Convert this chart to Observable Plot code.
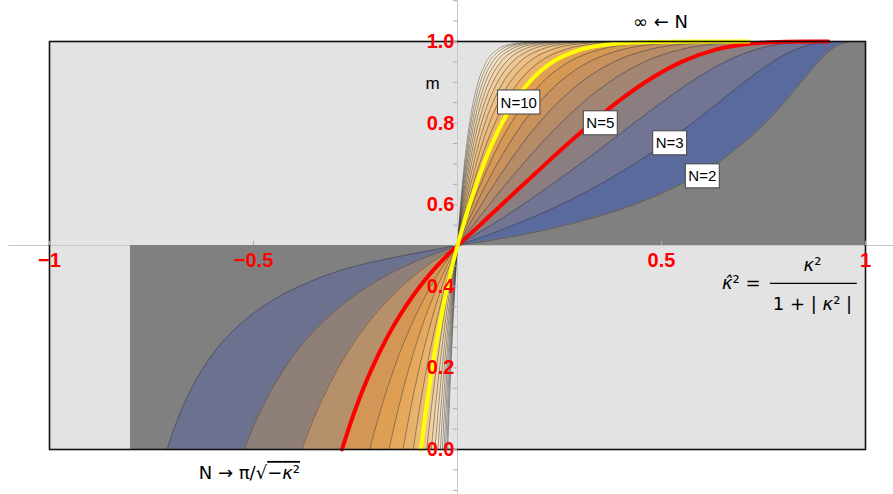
<!DOCTYPE html>
<html><head><meta charset="utf-8">
<script src="https://cdn.jsdelivr.net/npm/d3@7"></script>
<script src="https://cdn.jsdelivr.net/npm/@observablehq/plot@0.6"></script>
<style>body{margin:0;background:#fff}#chart{width:893px;height:494px}</style>
</head><body><div id="chart"></div>
<script>
// ---- data ----
const nValues = [2,3,4,5,6,7,8,9,10,11,12,13,14,15,16,17,18,19,20];
// upper half (kappa^2 > 0): m values and kappa-hat^2 positions per N
const mUpper = [0.5,0.55,0.6,0.65,0.7,0.75,0.8,0.85,0.9,0.95,0.98,0.995,0.999,0.9999,1];
const kUp2  = [0,0.265,0.432,0.547,0.633,0.699,0.754,0.800,0.842,0.884,0.915,0.942,0.959,0.973,0.984];
const kUp3  = [0,0.138,0.253,0.350,0.434,0.508,0.576,0.640,0.703,0.772,0.828,0.878,0.912,0.941,0.965];
const kUp4  = [0,0.083,0.160,0.232,0.301,0.368,0.433,0.500,0.571,0.656,0.730,0.802,0.854,0.900,0.940];
const kUp5  = [0,0.055,0.108,0.162,0.216,0.271,0.329,0.390,0.460,0.549,0.633,0.721,0.789,0.852,0.909];
const kUp6  = [0,0.0385,0.0779,0.1184,0.1607,0.2053,0.2536,0.3074,0.3714,0.4582,0.5455,0.6421,0.7221,0.7994,0.8741];
const kUp7  = [0,0.0286,0.0584,0.0898,0.1233,0.1595,0.1997,0.2459,0.3027,0.3833,0.4685,0.5687,0.6563,0.7455,0.8361];
const kUp8  = [0,0.0220,0.0454,0.0703,0.0972,0.1269,0.1604,0.1998,0.2494,0.3224,0.4030,0.5023,0.5938,0.6916,0.7962];
const kUp9  = [0,0.0175,0.0362,0.0563,0.0784,0.1030,0.1312,0.1648,0.2080,0.2732,0.3478,0.4437,0.5360,0.6392,0.7553];
const kUp10 = [0,0.0142,0.0295,0.0461,0.0645,0.0851,0.1090,0.1378,0.1754,0.2334,0.3017,0.3925,0.4833,0.5893,0.7143];
const kUp11 = [0,0.0118,0.0245,0.0384,0.0539,0.0714,0.0918,0.1167,0.1495,0.2011,0.2631,0.3481,0.4360,0.5425,0.6739];
const kUp12 = [0,0.0099,0.0207,0.0325,0.0457,0.0607,0.0783,0.0999,0.1287,0.1746,0.2308,0.3097,0.3938,0.4991,0.6345];
const kUp13 = [0,0.0085,0.0177,0.0278,0.0392,0.0522,0.0675,0.0864,0.1118,0.1527,0.2036,0.2765,0.3563,0.4592,0.5967];
const kUp14 = [0,0.0073,0.0153,0.0241,0.0340,0.0453,0.0587,0.0754,0.0979,0.1345,0.1806,0.2479,0.3231,0.4227,0.5605];
const kUp15 = [0,0.0064,0.0133,0.0210,0.0297,0.0397,0.0515,0.0663,0.0864,0.1192,0.1611,0.2231,0.2937,0.3894,0.5263];
const kUp16 = [0,0.0056,0.0117,0.0185,0.0262,0.0351,0.0456,0.0588,0.0767,0.1063,0.1444,0.2015,0.2676,0.3592,0.4941];
const kUp17 = [0,0.0050,0.0104,0.0165,0.0233,0.0312,0.0406,0.0524,0.0686,0.0953,0.1300,0.1827,0.2445,0.3318,0.4638];
const kUp18 = [0,0.0044,0.0093,0.0147,0.0208,0.0279,0.0364,0.0470,0.0616,0.0859,0.1177,0.1662,0.2240,0.3070,0.4355];
const kUp19 = [0,0.0040,0.0084,0.0132,0.0187,0.0251,0.0328,0.0424,0.0556,0.0778,0.1069,0.1518,0.2058,0.2844,0.4092];
const kUp20 = [0,0.0036,0.0075,0.0119,0.0169,0.0227,0.0297,0.0384,0.0505,0.0707,0.0975,0.1390,0.1896,0.2640,0.3846];
// lower half (kappa^2 < 0)
const mLower = [0.5,0.45,0.4,0.35,0.3,0.25,0.2,0.15,0.1,0.05,0];
const kLo2  = [0,-0.2476,-0.3872,-0.4771,-0.5402,-0.5870,-0.6230,-0.6517,-0.6753,-0.6950,-0.7116];
const kLo3  = [0,-0.1276,-0.2193,-0.2885,-0.3431,-0.3871,-0.4234,-0.4540,-0.4803,-0.5031,-0.5230];
const kLo4  = [0,-0.0760,-0.1364,-0.1858,-0.2271,-0.2621,-0.2924,-0.3187,-0.3421,-0.3629,-0.3815];
const kLo5  = [0,-0.0500,-0.0918,-0.1274,-0.1583,-0.1852,-0.2091,-0.2304,-0.2497,-0.2671,-0.2830];
const kLo6  = [0,-0.0353,-0.0656,-0.0921,-0.1155,-0.1364,-0.1551,-0.1721,-0.1877,-0.2020,-0.2152];
const kLo7  = [0,-0.0262,-0.0491,-0.0693,-0.0875,-0.1039,-0.1189,-0.1325,-0.1451,-0.1568,-0.1677];
const kLo8  = [0,-0.0202,-0.0380,-0.0540,-0.0684,-0.0816,-0.0936,-0.1047,-0.1150,-0.1246,-0.1336];
const kLo9  = [0,-0.0160,-0.0303,-0.0431,-0.0548,-0.0656,-0.0754,-0.0846,-0.0931,-0.1011,-0.1086];
const kLo10 = [0,-0.0130,-0.0247,-0.0352,-0.0449,-0.0538,-0.0620,-0.0696,-0.0768,-0.0835,-0.0898];
const kLo11 = [0,-0.0108,-0.0205,-0.0293,-0.0374,-0.0449,-0.0518,-0.0582,-0.0643,-0.0700,-0.0754];
const kLo12 = [0,-0.0091,-0.0173,-0.0247,-0.0316,-0.0380,-0.0439,-0.0494,-0.0546,-0.0595,-0.0641];
const kLo13 = [0,-0.0077,-0.0147,-0.0211,-0.0271,-0.0325,-0.0376,-0.0424,-0.0469,-0.0512,-0.0552];
const kLo14 = [0,-0.0067,-0.0127,-0.0183,-0.0234,-0.0282,-0.0326,-0.0368,-0.0407,-0.0444,-0.0479];
const kLo15 = [0,-0.0058,-0.0111,-0.0160,-0.0205,-0.0246,-0.0285,-0.0322,-0.0357,-0.0389,-0.0420];
const kLo16 = [0,-0.0051,-0.0098,-0.0141,-0.0180,-0.0217,-0.0252,-0.0284,-0.0315,-0.0344,-0.0371];
const kLo17 = [0,-0.0045,-0.0087,-0.0125,-0.0160,-0.0193,-0.0224,-0.0252,-0.0280,-0.0306,-0.0330];
const kLo18 = [0,-0.0040,-0.0077,-0.0111,-0.0143,-0.0172,-0.0200,-0.0226,-0.0250,-0.0274,-0.0296];
const kLo19 = [0,-0.0036,-0.0070,-0.0100,-0.0129,-0.0155,-0.0180,-0.0203,-0.0225,-0.0246,-0.0266];
const kLo20 = [0,-0.0033,-0.0063,-0.0090,-0.0116,-0.0140,-0.0163,-0.0184,-0.0204,-0.0223,-0.0241];
const darkLeftEdge = -0.8;   // left end of the dark region below the axis
// axis ticks and labels
const xTickValues = [-1,-0.5,0.5,1];
const xTickText = ["\u22121","\u22120.5","0.5","1"];
const yTickValues = [0,0.2,0.4,0.6,0.8,1];
const yTickText = ["0.0","0.2","0.4","0.6","0.8","1.0"];
const yMinorTicks = [-0.1,-0.05,0,0.05,0.1,0.15,0.2,0.25,0.3,0.35,0.4,0.45,0.5,0.55,0.6,0.65,0.7,0.75,0.8,0.85,0.9,0.95,1,1.05,1.1];
const curveLabelText = ["N=10","N=5","N=3","N=2"];

// ---- styles ----
const upperFill = ["#808080","#5a6a9c","#717493","#8b7e80","#a38574","#b68b68","#c8915d","#d69855","#e19f52",
  "#e8b068","#eab878","#ecc086","#eec893","#f0cfa0","#f2d6ad","#f4ddba","#f6e4c8","#f8ebd6","#faf1e3"];
const lowerFill = ["#808080","#6d7190","#8e7f79","#b6906b","#d39657","#de9e53","#e5a85c","#e9b26a","#ecbb78",
  "#f0c88e","#f2d1a0","#f4d9b0","#f5e0bf","#f7e6cc","#f8ebd7","#f9efe0","#faf3e8","#fbf6ee","#fcf9f3"];
const highlight = {5: {stroke:"#ff0000", width:4}, 10: {stroke:"#ffff00", width:4}};
const labelPos = [[0.150,0.850],[0.350,0.799],[0.520,0.750],[0.600,0.669]];
const mathFont = "'DejaVu Sans', 'Liberation Sans', sans-serif";

// ---- build tables ----
const upperX = [kUp2,kUp3,kUp4,kUp5,kUp6,kUp7,kUp8,kUp9,kUp10,kUp11,kUp12,kUp13,kUp14,kUp15,kUp16,kUp17,kUp18,kUp19,kUp20];
const lowerX = [kLo2,kLo3,kLo4,kLo5,kLo6,kLo7,kLo8,kLo9,kLo10,kLo11,kLo12,kLo13,kLo14,kLo15,kLo16,kLo17,kLo18,kLo19,kLo20];
const upperRows = nValues.map((n, i) => mUpper.map((m, j) => ({N: n, x: upperX[i][j], y: m})));
const lowerRows = nValues.map((n, i) => mLower.map((m, j) => ({N: n, x: lowerX[i][j], y: m})).reverse());

const marks = [Plot.frame({fill: "#e3e3e3"}),
  Plot.ruleY([0.5], {x1: -1.1, x2: 1.07, stroke: "#c8c8c8"}),
  Plot.ruleX([0], {y1: -0.11, y2: 1.1, stroke: "#c8c8c8"})];

for (let i = nValues.length - 1; i >= 0; i--) {
  const rows = upperRows[i].concat([{N: nValues[i], x: 1, y: 1}]);
  marks.push(Plot.areaY(rows, {x: "x", y1: 0.5, y2: "y", fill: upperFill[i], curve: "monotone-x"}));
  marks.push(Plot.areaX(lowerRows[i], {y: "y", x1: darkLeftEdge, x2: "x", fill: lowerFill[i], curve: "monotone-y"}));
}
nValues.forEach((n, i) => {
  if (highlight[n]) return;
  marks.push(Plot.line(upperRows[i], {x: "x", y: "y", stroke: "#3a3a3a", strokeWidth: 0.6, strokeOpacity: 0.85, curve: "monotone-x"}));
  marks.push(Plot.line(lowerRows[i], {x: "x", y: "y", stroke: "#3a3a3a", strokeWidth: 0.6, strokeOpacity: 0.85, curve: "monotone-y"}));
});
nValues.forEach((n, i) => {
  const h = highlight[n];
  if (!h) return;
  marks.push(Plot.line(upperRows[i], {x: "x", y: "y", stroke: h.stroke, strokeWidth: h.width, curve: "monotone-x"}));
  marks.push(Plot.line(lowerRows[i], {x: "x", y: "y", stroke: h.stroke, strokeWidth: h.width, curve: "monotone-y"}));
});
marks.push(
  Plot.frame({stroke: "#111", strokeWidth: 1.6}),
  Plot.ruleY(yMinorTicks, {y: d => d, x1: 0, x2: -0.01, stroke: "#aaa"}),
  Plot.ruleX(xTickValues, {x: d => d, y1: 0.5, y2: 0.51, stroke: "#aaa"}),
  Plot.text(yTickValues, {x: 0, y: d => d, text: (d, i) => yTickText[i], textAnchor: "end", dx: -3,
    fill: "#ff0000", fontWeight: "bold", fontSize: 20}),
  Plot.text(xTickValues, {x: d => d, y: 0.5, dy: 15, text: (d, i) => xTickText[i],
    fill: "#ff0000", fontWeight: "bold", fontSize: 20}),
  Plot.text(curveLabelText, {x: (d, i) => labelPos[i][0], y: (d, i) => labelPos[i][1], text: d => d,
    fontSize: 15, fill: "#000"}),
  Plot.text(["m"], {x: -0.061, y: 0.897, text: d => d, fontSize: 17, fill: "#000"}),
  Plot.text(["\u221e \u2190 N"], {x: 0.4975, y: 1.047, text: d => d, fontSize: 18, fill: "#000", fontFamily: mathFont}),
  Plot.text(["N \u2192 \u03c0/\u221a\u2212\u03ba\u00b2"], {x: -0.51, y: -0.058, text: d => d, fontSize: 18, fill: "#000", fontFamily: mathFont}),
  Plot.text(["\u03ba\u0302\u00b2 ="], {x: 0.743, y: 0.407, text: d => d, textAnchor: "end", fontSize: 18, fill: "#000", fontFamily: mathFont}),
  Plot.text(["\u03ba\u00b2"], {x: 0.870, y: 0.452, text: d => d, fontSize: 18, fill: "#000", fontFamily: mathFont}),
  Plot.text(["1 + | \u03ba\u00b2 |"], {x: 0.870, y: 0.356, text: d => d, fontSize: 18, fill: "#000", fontFamily: mathFont}),
  Plot.ruleY([0.407], {x1: 0.767, x2: 0.980, stroke: "#000", strokeWidth: 1.2})
);

const svg = Plot.plot({
  width: 893, height: 494,
  marginLeft: 49, marginRight: 28, marginTop: 41, marginBottom: 45,
  x: {domain: [-1, 1], axis: null},
  y: {domain: [0, 1], axis: null},
  style: {fontFamily: "'Liberation Sans', Arial, Helvetica, sans-serif", background: "white", overflow: "visible"},
  marks
});
document.getElementById("chart").appendChild(svg);

// write a string into a text element, with kappa in italics and an optional overlined tail
function richText(node, str, overlineFrom) {
  const s = d3.select(node);
  s.text(null);
  const parts = [];
  if (overlineFrom != null) {
    parts.push([str.slice(0, overlineFrom), false]);
    parts.push([str.slice(overlineFrom), true]);
  } else parts.push([str, false]);
  for (const [seg, over] of parts) {
    for (const piece of seg.split(/(\u03ba\u0302?)/)) {
      if (!piece) continue;
      const ts = s.append("tspan").text(piece);
      if (piece.startsWith("\u03ba")) ts.style("font-style", "italic");
      if (over) ts.style("text-decoration", "overline");
    }
  }
}

d3.select(svg).selectAll("text").each(function() {
  const t = this.textContent;
  if (/^N=\d+$/.test(t)) {
    const b = this.getBBox();
    const tr = this.getAttribute("transform");
    const r = d3.select(this.parentNode).insert("rect", () => this)
      .attr("x", b.x - 3).attr("y", b.y - 3.5).attr("width", b.width + 6).attr("height", b.height + 7)
      .attr("fill", "white").attr("stroke", "#444").attr("stroke-width", 1);
    if (tr) r.attr("transform", tr);
  } else if (t === "N \u2192 \u03c0/\u221a\u2212\u03ba\u00b2") {
    richText(this, t, t.indexOf("\u2212"));
  } else if (t.includes("\u03ba")) {
    richText(this, t, null);
  }
});
</script></body></html>
